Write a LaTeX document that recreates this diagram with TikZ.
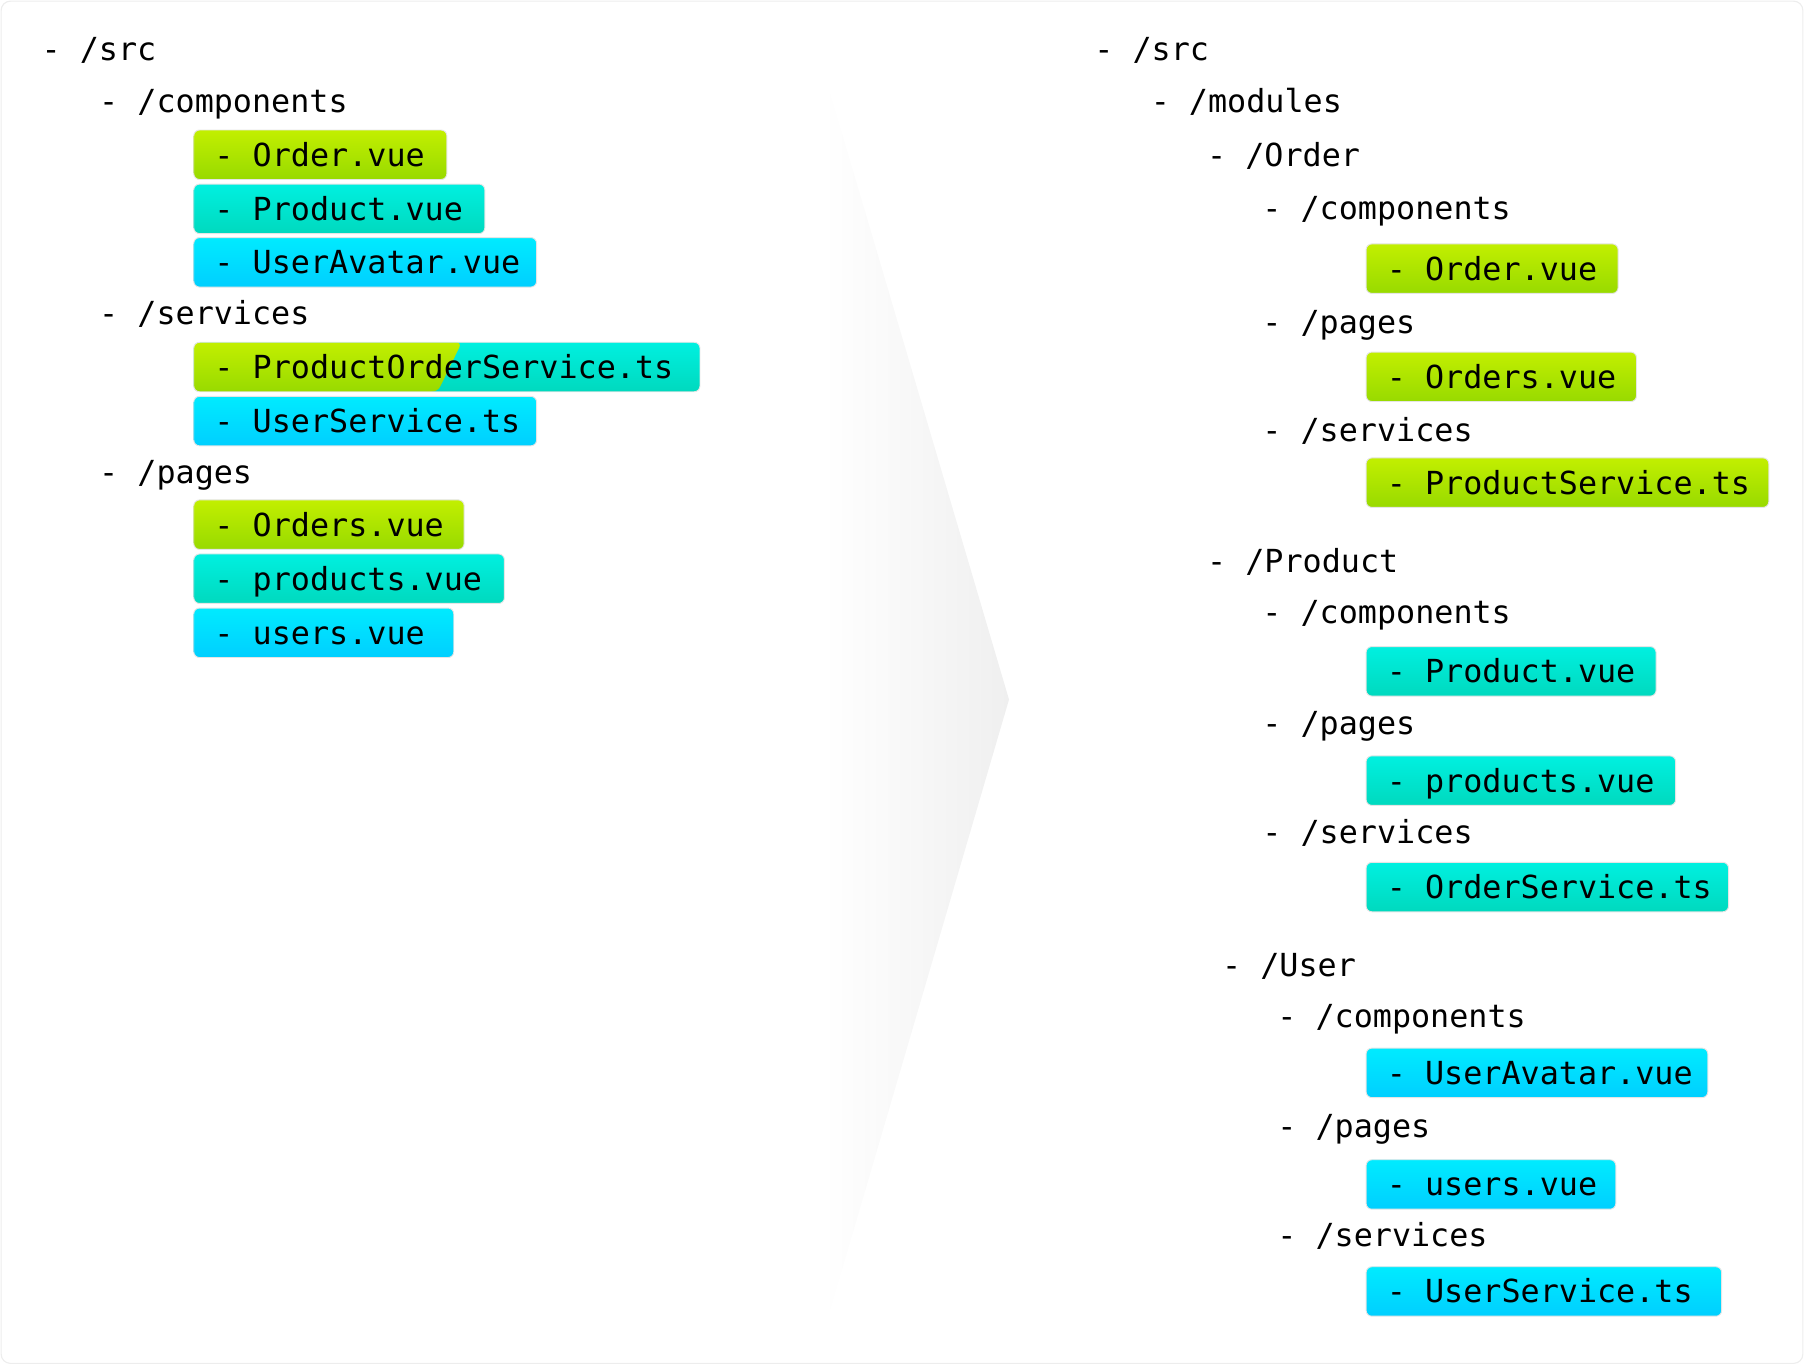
\documentclass[tikz,border=0pt]{standalone}
\usepackage{fontspec}
\setmonofont{DejaVu Sans Mono}
\definecolor{grT}{HTML}{C2EF00}
\definecolor{grB}{HTML}{98DA00}
\definecolor{tlT}{HTML}{00F0E0}
\definecolor{tlB}{HTML}{00D9BE}
\definecolor{cyT}{HTML}{00EBFF}
\definecolor{cyB}{HTML}{00CFFF}
\definecolor{arrowgray}{HTML}{EFEFEF}
\begin{document}
\begin{tikzpicture}[x=1pt,y=-1pt,
  every node/.style={font=\ttfamily\fontsize{27.6}{33}\selectfont, text=black},
  lbl/.style={anchor=base west, inner sep=0pt},
  bw/.style={text width=#1pt-36pt, align=flush left,
    execute at begin node={\hbox\bgroup}, execute at end node={\egroup}},
  filebox/.style={anchor=west, rounded corners=5pt, draw=black!10, line width=0.8pt,
    minimum height=43pt, inner xsep=18pt, inner ysep=0pt, text height=20pt, text depth=0pt},
  gbox/.style={filebox, bw=#1, top color=grT, bottom color=grB},
  tbox/.style={filebox, bw=#1, top color=tlT, bottom color=tlB},
  cbox/.style={filebox, bw=#1, top color=cyT, bottom color=cyB},
  splitbox/.style={filebox, bw=#1, path picture={
     \shade[top color=tlT, bottom color=tlB] (path picture bounding box.south west) rectangle (path picture bounding box.north east);
     \shade[top color=grT, bottom color=grB] (path picture bounding box.south west) -- (path picture bounding box.north west) -- ([xshift=233pt]path picture bounding box.north west) -- ([xshift=212pt]path picture bounding box.south west) -- cycle;
  }}
]
\useasboundingbox (0,0) rectangle (1568,1186);
\draw[black!7, line width=1pt, rounded corners=8pt] (1,1) rectangle (1567,1185);

% transition arrow
\shade[left color=white, right color=arrowgray] (716,62) -- (877,608) -- (716,1158) -- cycle;

% left tree
\node[lbl] (lsrc) at (36,53) {- /src};
\node[lbl] (lcomp) at (86,98) {- /components};
\node[gbox=220] (lorder) at (168,134.5) {- Order.vue};
\node[tbox=253] (lproduct) at (168,181.5) {- Product.vue};
\node[cbox=298] (lavatar) at (168,228) {- UserAvatar.vue};
\node[lbl] (lserv) at (86,282) {- /services};
\node[splitbox=440] (lpos) at (168,319) {- ProductOrderService.ts};
\node[cbox=298] (luserv) at (168,366) {- UserService.ts};
\node[lbl] (lpages) at (86,420) {- /pages};
\node[gbox=235] (lorders) at (168,456) {- Orders.vue};
\node[tbox=270] (lproducts) at (168,503) {- products.vue};
\node[cbox=226] (lusers) at (168,550) {- users.vue};

% right tree
\node[lbl] (rsrc) at (951,53) {- /src};
\node[lbl] (rmod) at (1000,98) {- /modules};
\node[lbl] (rorder) at (1049,145) {- /Order};
\node[lbl] (rocomp) at (1097,191) {- /components};
\node[gbox=219] (roordervue) at (1187,233.5) {- Order.vue};
\node[lbl] (ropages) at (1097,290) {- /pages};
\node[gbox=235] (roorders) at (1187,327.5) {- Orders.vue};
\node[lbl] (roserv) at (1097,384) {- /services};
\node[gbox=350] (roprodserv) at (1187,419.5) {- ProductService.ts};

\node[lbl] (rprod) at (1049,498) {- /Product};
\node[lbl] (rpcomp) at (1097,542) {- /components};
\node[tbox=252] (rpprodvue) at (1187,583.5) {- Product.vue};
\node[lbl] (rppages) at (1097,638) {- /pages};
\node[tbox=269] (rpproducts) at (1187,678.5) {- products.vue};
\node[lbl] (rpserv) at (1097,733) {- /services};
\node[tbox=315] (rporderserv) at (1187,771) {- OrderService.ts};

\node[lbl] (ruser) at (1062,849) {- /User};
\node[lbl] (rucomp) at (1110,893) {- /components};
\node[cbox=297] (ruavatar) at (1187,932.5) {- UserAvatar.vue};
\node[lbl] (rupages) at (1110,989) {- /pages};
\node[cbox=217] (ruusers) at (1187,1029.5) {- users.vue};
\node[lbl] (ruserv) at (1110,1083) {- /services};
\node[cbox=309] (ruuserserv) at (1187,1122.5) {- UserService.ts};
\end{tikzpicture}
\end{document}
